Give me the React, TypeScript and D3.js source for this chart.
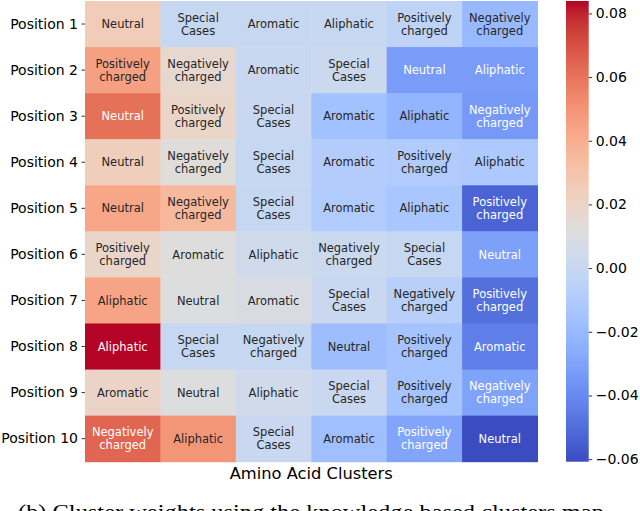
import React, { useRef, useEffect } from 'react'
import * as d3 from 'd3'

// heatmap rows (positions), cell annotations and weights
const positions = ['Position 1', 'Position 2', 'Position 3', 'Position 4', 'Position 5',
  'Position 6', 'Position 7', 'Position 8', 'Position 9', 'Position 10']

const clusterLabels = [
  ['Neutral', 'Special\nCases', 'Aromatic', 'Aliphatic', 'Positively\ncharged', 'Negatively\ncharged'],
  ['Positively\ncharged', 'Negatively\ncharged', 'Aromatic', 'Special\nCases', 'Neutral', 'Aliphatic'],
  ['Neutral', 'Positively\ncharged', 'Special\nCases', 'Aromatic', 'Aliphatic', 'Negatively\ncharged'],
  ['Neutral', 'Negatively\ncharged', 'Special\nCases', 'Aromatic', 'Positively\ncharged', 'Aliphatic'],
  ['Neutral', 'Negatively\ncharged', 'Special\nCases', 'Aromatic', 'Aliphatic', 'Positively\ncharged'],
  ['Positively\ncharged', 'Aromatic', 'Aliphatic', 'Negatively\ncharged', 'Special\nCases', 'Neutral'],
  ['Aliphatic', 'Neutral', 'Aromatic', 'Special\nCases', 'Negatively\ncharged', 'Positively\ncharged'],
  ['Aliphatic', 'Special\nCases', 'Negatively\ncharged', 'Neutral', 'Positively\ncharged', 'Aromatic'],
  ['Aromatic', 'Neutral', 'Aliphatic', 'Special\nCases', 'Positively\ncharged', 'Negatively\ncharged'],
  ['Negatively\ncharged', 'Aliphatic', 'Special\nCases', 'Aromatic', 'Positively\ncharged', 'Neutral'],
]

const weights = [
  [0.025, 0.000, 0.000, 0.000, -0.004, -0.020],
  [0.0455, 0.017, 0.001, 0.002, -0.033, -0.033],
  [0.061, 0.019, 0.001, -0.016, -0.022, -0.034],
  [0.024, 0.0125, 0.000, -0.009, -0.010, -0.011],
  [0.043, 0.035, 0.000, -0.010, -0.013, -0.053],
  [0.019, 0.0115, 0.004, 0.002, 0.000, -0.031],
  [0.044, 0.011, 0.009, 0.001, -0.007, -0.049],
  [0.0839, 0.000, 0.000, -0.018, -0.015, -0.044],
  [0.020, 0.011, 0.005, 0.001, -0.015, -0.030],
  [0.064, 0.049, 0.001, -0.017, -0.029, -0.0608],
]

const cbarTicks = [0.08, 0.06, 0.04, 0.02, 0.0, -0.02, -0.04, -0.06]

// matplotlib coolwarm, sampled
const coolwarm = [
  [59, 76, 192], [68, 90, 204], [77, 104, 215], [87, 117, 225], [98, 130, 234], [108, 142, 241],
  [119, 154, 247], [130, 165, 251], [141, 176, 254], [152, 185, 255], [163, 194, 255], [174, 201, 253],
  [184, 208, 249], [194, 213, 244], [204, 217, 238], [213, 219, 230], [221, 221, 221], [229, 216, 209],
  [236, 211, 197], [241, 204, 185], [245, 196, 173], [247, 187, 160], [247, 177, 148], [247, 166, 135],
  [244, 154, 123], [241, 141, 111], [236, 127, 99], [229, 112, 88], [222, 96, 77], [213, 80, 66],
  [203, 62, 56], [192, 40, 47], [180, 4, 38],
].map(c => d3.rgb(c[0], c[1], c[2]).toString())

const cmap = d3.scaleLinear<string>()
  .domain(coolwarm.map((_, i) => i / (coolwarm.length - 1)))
  .range(coolwarm)
  .interpolate(d3.interpolateRgb)
  .clamp(true)

function luminance(c: string) {
  const rgb = d3.rgb(c)
  const lin = (v: number) => {
    v = v / 255
    return v <= 0.03928 ? v / 12.92 : Math.pow((v + 0.055) / 1.055, 2.4)
  }
  return 0.2126 * lin(rgb.r) + 0.7152 * lin(rgb.g) + 0.0722 * lin(rgb.b)
}

const FONT = 'DejaVu Sans, sans-serif'

function App() {
  const svgRef = useRef<SVGSVGElement>(null)

  useEffect(() => {
    const svg = d3.select(svgRef.current)
    svg.selectAll('*').remove()

    const left = 85, right = 537.5, top = 1, bottom = 461.7
    const flat = weights.flat()
    const [vmin, vmax] = d3.extent(flat) as [number, number]
    const norm = d3.scaleLinear().domain([vmin, vmax]).range([0, 1])
    const color = (v: number) => cmap(norm(v))

    const x = d3.scaleBand<number>().domain(d3.range(6)).range([left, right])
    const y = d3.scaleBand<string>().domain(positions).range([top, bottom])

    const cells = svg.append('g')
    weights.forEach((row, r) => {
      row.forEach((v, c) => {
        const fill = color(v)
        cells.append('rect')
          .attr('x', x(c)!)
          .attr('y', y(positions[r])!)
          .attr('width', x.bandwidth() + 0.5)
          .attr('height', y.bandwidth() + 0.5)
          .attr('fill', fill)
        const lines = clusterLabels[r][c].split('\n')
        const cx = x(c)! + x.bandwidth() / 2
        const cy = y(positions[r])! + y.bandwidth() / 2
        const lh = 13.3
        const t = cells.append('text')
          .attr('x', cx)
          .attr('text-anchor', 'middle')
          .attr('font-family', FONT)
          .attr('font-size', 11.5)
          .attr('fill', luminance(fill) > 0.408 ? '#262626' : '#ffffff')
        lines.forEach((ln, i) => {
          t.append('tspan')
            .attr('x', cx)
            .attr('y', cy + (i - (lines.length - 1) / 2) * lh)
            .attr('dy', '0.36em')
            .text(ln)
        })
      })
    })

    // y axis
    const yAxis = svg.append('g')
      .attr('transform', `translate(${left},0)`)
      .call(d3.axisLeft(y).tickSize(3.5).tickPadding(3.5))
    yAxis.select('.domain').remove()
    yAxis.selectAll('text').attr('font-family', FONT).attr('font-size', 14).attr('fill', '#000')
    yAxis.selectAll('line').attr('stroke', '#000').attr('stroke-width', 0.8)

    svg.append('text')
      .attr('x', (left + right) / 2)
      .attr('y', 479)
      .attr('text-anchor', 'middle')
      .attr('font-family', FONT)
      .attr('font-size', 16.3)
      .text('Amino Acid Clusters')

    // colorbar
    const cbX = 566, cbW = 22.7
    const defs = svg.append('defs')
    const grad = defs.append('linearGradient')
      .attr('id', 'cbar')
      .attr('x1', 0).attr('x2', 0).attr('y1', 1).attr('y2', 0)
    d3.range(0, 1.0001, 1 / 64).forEach(t => {
      grad.append('stop').attr('offset', t).attr('stop-color', cmap(t))
    })
    svg.append('rect')
      .attr('x', cbX).attr('y', top)
      .attr('width', cbW).attr('height', bottom - top)
      .attr('fill', 'url(#cbar)')

    const cy = d3.scaleLinear().domain([vmin, vmax]).range([bottom, top])
    const cAxis = svg.append('g')
      .attr('transform', `translate(${cbX + cbW},0)`)
      .call(d3.axisRight(cy).tickValues(cbarTicks).tickSize(3.5).tickPadding(3.5)
        .tickFormat(d => d3.format('.2f')(d as number).replace('-', '\u2212')))
    cAxis.select('.domain').remove()
    cAxis.selectAll('text').attr('font-family', FONT).attr('font-size', 14).attr('fill', '#000')
    cAxis.selectAll('line').attr('stroke', '#000').attr('stroke-width', 0.8)

    // figure caption (cut off at the bottom)
    svg.append('text')
      .attr('x', 18)
      .attr('y', 519)
      .attr('font-family', 'Liberation Serif, serif')
      .attr('font-size', 22)
      .attr('textLength', 592)
      .attr('lengthAdjust', 'spacingAndGlyphs')
      .text('(b) Cluster weights using the knowledge based clusters map.')
  }, [])

  return (
    <svg ref={svgRef} width={640} height={511}
      style={{ position: 'absolute', left: 0, top: 0, background: '#fff' }} />
  )
}

export default App
